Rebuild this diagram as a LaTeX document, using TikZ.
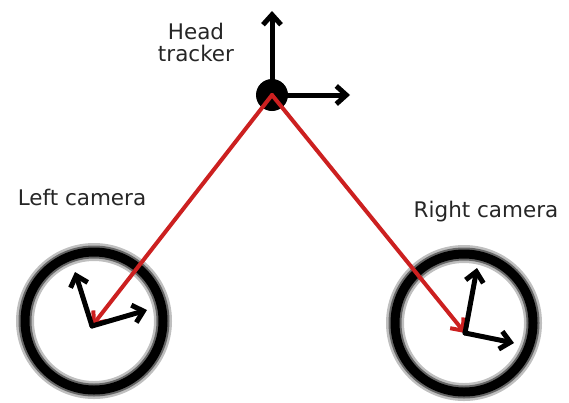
\documentclass[tikz,border=0pt]{standalone}
\usepackage{fontspec}
\setmainfont{DejaVu Sans}
\usetikzlibrary{arrows.meta}
\definecolor{rayred}{HTML}{CC2020}

\begin{document}
\begin{tikzpicture}[
  x=1pt,
  y=-1pt,
  line join=round,
  line cap=round,
  label/.style={font=\fontsize{21.5}{25}\selectfont,text=black!85,align=center,inner sep=0pt},
  tracker/.style={circle,fill=black,minimum size=32pt,inner sep=0pt},
  lens/.style={circle,minimum size=138pt,inner sep=0pt,draw=black,line width=9pt},
  lensblur/.style={draw=black!25,line width=18pt},
  lenshalo/.style={draw=black!60,line width=13pt},
  frameaxis/.style={draw=black,line width=5pt,-{Straight Barb[length=10pt,width=18pt,line width=5pt]}},
  ray/.style={draw=rayred,line width=4pt,-{Straight Barb[length=10pt,width=17pt,line width=4pt]}}
]
  \useasboundingbox (0,0) rectangle (569,402);

  % Camera rings, softened with grey halos.
  \foreach \c in {(94,321),(464,323)} {
    \draw[lensblur] \c circle[radius=69];
    \draw[lenshalo] \c circle[radius=69];
  }
  \node[lens] (leftcam) at (94,321) {};
  \node[lens] (rightcam) at (464,323) {};

  % Frame origins and axis tips.
  \coordinate (Lorigin) at (92,326);
  \coordinate (Lup) at (75,272);
  \coordinate (Lright) at (147,310);
  \coordinate (Rorigin) at (465,333);
  \coordinate (Rup) at (477,268);
  \coordinate (Rright) at (514,343);
  \coordinate (Hup) at (272,11);
  \coordinate (Hright) at (350,95);

  % Head tracker and its frame.
  \node[tracker] (head) at (272,95) {};
  \draw[frameaxis] (head.center) -- (Hup);
  \draw[frameaxis] (head.center) -- (Hright);

  % Rays from the tracker to each camera frame.
  \draw[ray] (head.center) -- (Lorigin);
  \draw[ray] (head.center) -- (Rorigin);

  % Camera frames drawn over the rays.
  \draw[frameaxis] (Lorigin) -- (Lup);
  \draw[frameaxis] (Lorigin) -- (Lright);
  \draw[frameaxis] (Rorigin) -- (Rup);
  \draw[frameaxis] (Rorigin) -- (Rright);

  % Labels.
  \node[label] (headtxt) at (196,42) {Head\\[-3pt]tracker};
  \node[label] (lefttxt) at (82,197) {Left camera};
  \node[label] (righttxt) at (486,212) {Right camera};
\end{tikzpicture}
\end{document}
